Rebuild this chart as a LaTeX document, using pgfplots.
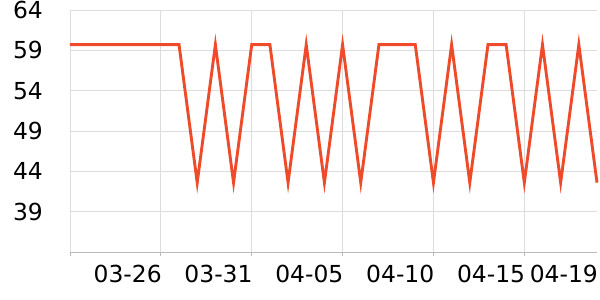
\documentclass[border=0pt]{standalone}
\usepackage{pgfplots}
\pgfplotsset{compat=1.18}
\usepackage{fontspec}
\setmainfont{DejaVu Sans}
\definecolor{linec}{HTML}{EE4B2B}
\definecolor{gridc}{HTML}{DDDDDD}
\definecolor{axisc}{HTML}{BBBBBB}
\begin{document}
\begin{tikzpicture}
\begin{axis}[
  at={(0,0)}, anchor=south west,
  scale only axis,
  width=527bp, height=242bp,
  xmin=0, xmax=29, ymin=34, ymax=64,
  axis line style={draw=none},
  xtick={0,5,10,15,20,25},
  xticklabels={,03-26,03-31,04-05,04-10,04-15},
  extra x ticks={29},
  extra x tick labels={04-19},
  extra x tick style={grid=none},
  ytick={39,44,49,54,59,64},
  yticklabels={39,44,49,54,59,{\raisebox{-2bp}{64}}},
  grid=major,
  major grid style={gridc, line width=0.8bp},
  /pgf/number format/assume math mode=true,
  tick label style={font=\fontsize{23.5}{28}\selectfont},
  xticklabel style={anchor=north east, inner sep=0pt, yshift=-13bp, xshift=1bp},
  yticklabel style={anchor=east, inner sep=0pt, xshift=-27bp},
  major tick length=0pt,
  clip=false,
]
\addplot[linec, line width=2.9bp, line join=miter] coordinates {
(0,59.7)(1,59.7)(2,59.7)(3,59.7)(4,59.7)(5,59.7)(6,59.7)
(7,42.6)(8,59.7)(9,42.6)(10,59.7)(11,59.7)(12,42.6)(13,59.7)
(14,42.6)(15,59.7)(16,42.6)(17,59.7)(18,59.7)(19,59.7)(20,42.6)
(21,59.7)(22,42.6)(23,59.7)(24,59.7)(25,42.6)(26,59.7)(27,42.6)
(28,59.7)(29,42.6)
};
\draw[axisc, line width=1bp] (axis cs:0,34) -- (axis cs:29,34);
\pgfplotsinvokeforeach{0,5,10,15,20,25}{
  \draw[axisc, line width=0.8bp] (axis cs:#1,34) -- ++(0pt,-4bp);
}
\end{axis}
\pgfresetboundingbox
\path[use as bounding box] (-70bp,-48bp) rectangle (530bp,252bp);
\end{tikzpicture}
\end{document}
